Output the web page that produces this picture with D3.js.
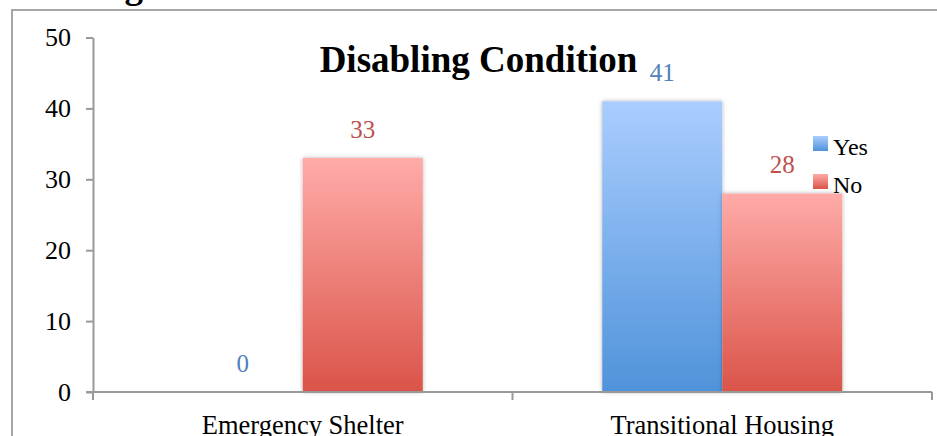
<!DOCTYPE html>
<html>
<head>
<meta charset="utf-8">
<script src="https://cdn.jsdelivr.net/npm/d3@7"></script>
<style>
  html, body { margin: 0; padding: 0; background: #fff; }
  svg { display: block; }
  text { font-family: "Liberation Serif", "Times New Roman", serif; }
</style>
</head>
<body>
<svg id="chart" width="937" height="436"></svg>
<script>
const categories = ["Emergency Shelter", "Transitional Housing"];
const seriesNames = ["Yes", "No"];
const yesValues = [0, 41];
const noValues = [33, 28];
const yTicks = [0, 10, 20, 30, 40, 50];
const title = "Disabling Condition";
const cutTitle = "Housing";

const seriesColors = {
  Yes: { top: "#aacdff", bottom: "#4f93da", label: "#4f81bd" },
  No:  { top: "#ffaba8", bottom: "#da5449", label: "#c0504d" }
};

const svg = d3.select("#chart");
const W = 937, H = 436;
const plot = { left: 93, right: 932, top: 37.5, bottom: 392 };

// gradients + shadow
const defs = svg.append("defs");
seriesNames.forEach(s => {
  const g = defs.append("linearGradient").attr("id", "grad-" + s)
    .attr("x1", 0).attr("y1", 0).attr("x2", 0).attr("y2", 1);
  g.append("stop").attr("offset", "0%").attr("stop-color", seriesColors[s].top);
  g.append("stop").attr("offset", "100%").attr("stop-color", seriesColors[s].bottom);
  const lg = defs.append("linearGradient").attr("id", "lgrad-" + s)
    .attr("x1", 0).attr("y1", 0).attr("x2", 0).attr("y2", 1);
  lg.append("stop").attr("offset", "0%").attr("stop-color", seriesColors[s].top);
  lg.append("stop").attr("offset", "100%").attr("stop-color", seriesColors[s].bottom);
});
const f = defs.append("filter").attr("id", "shadow")
  .attr("x", "-10%").attr("y", "-5%").attr("width", "120%").attr("height", "110%");
f.append("feDropShadow").attr("dx", 0).attr("dy", 0).attr("stdDeviation", 2)
  .attr("flood-color", "#000").attr("flood-opacity", 0.3);

// outer frame (extends beyond the visible area)
svg.append("rect").attr("x", 12).attr("y", 10).attr("width", 1000).attr("height", 500)
  .attr("fill", "none").attr("stroke", "#a6a6a6").attr("stroke-width", 2);

// cut-off heading at the top
svg.append("text").attr("x", 143).attr("y", -2).attr("text-anchor", "end")
  .attr("font-weight", "bold").attr("font-size", 37).attr("fill", "#000").text(cutTitle);

const x = d3.scaleBand().domain(categories).range([plot.left, plot.right]).padding(0);
const xs = d3.scaleBand().domain(seriesNames).range([0, x.bandwidth()])
  .paddingInner(0).paddingOuter(0.748);
const y = d3.scaleLinear().domain([0, 50]).range([plot.bottom, plot.top]);

const data = categories.map((c, i) => ({ cat: c, Yes: yesValues[i], No: noValues[i] }));

// bars
const groups = svg.append("g").selectAll("g").data(data).join("g")
  .attr("transform", d => `translate(${x(d.cat)},0)`);
groups.selectAll("rect").data(d => seriesNames.map(s => ({ s, v: d[s] })))
  .join("rect")
  .filter(d => d.v > 0)
  .attr("x", d => xs(d.s))
  .attr("y", d => y(d.v))
  .attr("width", xs.bandwidth())
  .attr("height", d => y(0) - y(d.v))
  .attr("fill", d => `url(#grad-${d.s})`)
  .attr("filter", "url(#shadow)");

// value labels
groups.selectAll("text.val").data(d => seriesNames.map(s => ({ s, v: d[s] })))
  .join("text").attr("class", "val")
  .attr("x", d => xs(d.s) + xs.bandwidth() / 2)
  .attr("y", d => y(d.v) - 20)
  .attr("text-anchor", "middle")
  .attr("font-size", 25)
  .attr("fill", d => seriesColors[d.s].label)
  .text(d => d.v);

// y axis
const yAxis = d3.axisLeft(y).tickValues(yTicks).tickSize(7).tickSizeOuter(0).tickPadding(15);
const gy = svg.append("g").attr("transform", `translate(${plot.left},0)`).call(yAxis);
gy.select(".domain").attr("stroke", "#999").attr("stroke-width", 2);
gy.selectAll(".tick line").attr("stroke", "#999").attr("stroke-width", 2);
gy.selectAll(".tick text").attr("font-size", 26).attr("fill", "#000")
  .attr("font-family", "Liberation Serif, serif");

// x axis line
svg.append("line").attr("x1", plot.left - 7).attr("x2", plot.right)
  .attr("y1", y(0)).attr("y2", y(0)).attr("stroke", "#999").attr("stroke-width", 2);
// boundary ticks
const bounds = categories.map(c => x(c)).concat([x(categories[categories.length - 1]) + x.bandwidth()]);
svg.append("g").selectAll("line").data(bounds).join("line")
  .attr("x1", d => d).attr("x2", d => d)
  .attr("y1", y(0)).attr("y2", y(0) + 8)
  .attr("stroke", "#999").attr("stroke-width", 2);
// category labels
svg.append("g").selectAll("text").data(categories).join("text")
  .attr("x", d => x(d) + x.bandwidth() / 2)
  .attr("y", 434)
  .attr("text-anchor", "middle")
  .attr("font-size", 26.5)
  .attr("fill", "#000")
  .text(d => d);

// title
svg.append("text").attr("x", 478.5).attr("y", 72).attr("text-anchor", "middle")
  .attr("font-weight", "bold").attr("font-size", 37).attr("fill", "#000").text(title);

// legend
const legend = svg.append("g").selectAll("g").data(seriesNames).join("g")
  .attr("transform", (d, i) => `translate(813,${136 + i * 38})`);
legend.append("rect").attr("width", 15).attr("height", 15)
  .attr("fill", d => `url(#lgrad-${d})`);
legend.append("text").attr("x", 20).attr("y", 19)
  .attr("font-size", 24).attr("fill", "#000").text(d => d);
</script>
</body>
</html>
